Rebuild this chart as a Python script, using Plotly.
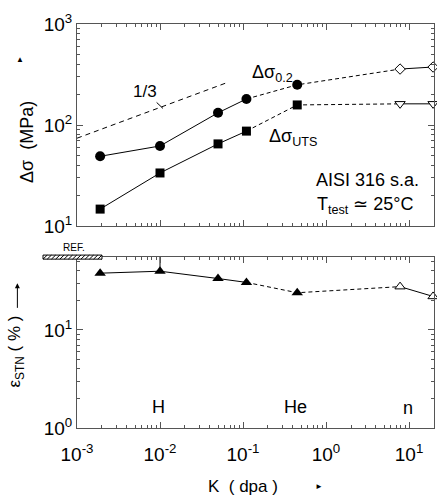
import plotly.graph_objects as go

# Irradiation dose (dpa) for the H, He and neutron irradiations
dose_dpa = [0.0019, 0.01, 0.05, 0.11, 0.45, 7.8, 19.5]
# Yield stress increase and UTS increase (MPa)
d_sigma_02 = [49, 62, 132, 181, 250, 358, 375]
d_sigma_uts = [14.7, 33.5, 65, 87, 158, 162, 162]
# Uniform elongation (%)
eps_stn = [38, 39.8, 33.5, 30.6, 24, 27.7, 22]
ref_elong = 56  # unirradiated reference elongation

# Slope 1/3 guide line
guide_dose = [0.001, 0.066]
guide_sigma = [74, 265]

FONT = "Liberation Sans, Arial, sans-serif"
INK = "black"
AX = "#555555"

fig = go.Figure()


def series(y, ya, filled_sym, open_sym, size, open_size):
    xa = "x2" if ya == "y2" else "x"
    # solid segment: H irradiations
    fig.add_trace(go.Scatter(x=dose_dpa[0:4], y=y[0:4], mode="lines", xaxis=xa, yaxis=ya,
                             line=dict(color=INK, width=1), showlegend=False, hoverinfo="skip"))
    # dashed bridge H -> He -> n
    fig.add_trace(go.Scatter(x=dose_dpa[3:6], y=y[3:6], mode="lines", xaxis=xa, yaxis=ya,
                             line=dict(color=INK, width=1, dash="4px,3px"), showlegend=False, hoverinfo="skip"))
    # solid segment: neutrons
    fig.add_trace(go.Scatter(x=dose_dpa[5:7], y=y[5:7], mode="lines", xaxis=xa, yaxis=ya,
                             line=dict(color=INK, width=1), showlegend=False, hoverinfo="skip"))
    fig.add_trace(go.Scatter(x=dose_dpa[0:5], y=y[0:5], mode="markers", xaxis=xa, yaxis=ya,
                             marker=dict(symbol=filled_sym, size=size, color=INK, line=dict(width=0)),
                             showlegend=False, cliponaxis=False))
    fig.add_trace(go.Scatter(x=dose_dpa[5:7], y=y[5:7], mode="markers", xaxis=xa, yaxis=ya,
                             marker=dict(symbol=open_sym, size=open_size, color="white",
                                         line=dict(color=INK, width=1)),
                             showlegend=False, cliponaxis=False))


series(d_sigma_02, "y2", "circle", "diamond", 10, 8)
series(d_sigma_uts, "y2", "square", "triangle-down", 9, 9)
series(eps_stn, "y", "triangle-up", "triangle-up", 10, 9)

# mark from the 10^-2 point up to the reference level
fig.add_trace(go.Scatter(x=[dose_dpa[1], dose_dpa[1]], y=[eps_stn[1], ref_elong], mode="lines",
                         line=dict(color=INK, width=1), showlegend=False, hoverinfo="skip"))

fig.add_trace(go.Scatter(x=guide_dose, y=guide_sigma, mode="lines", xaxis="x2", yaxis="y2",
                         line=dict(color=INK, width=1, dash="5px,4px"), showlegend=False, hoverinfo="skip"))

xtv = [1e-3, 1e-2, 1e-1, 1, 10]
xtt = ["10<sup>-3</sup>", "10<sup>-2</sup>", "10<sup>-1</sup>", "10<sup>0</sup>", "10<sup>1</sup>"]
minor_x = [m * 10.0 ** e for e in range(-3, 2) for m in range(2, 10)]

common_axis = dict(type="log", showgrid=False, zeroline=False, showline=True, linecolor=AX,
                   linewidth=1, mirror="allticks", ticks="inside", ticklen=6, tickcolor=AX,
                   tickfont=dict(family=FONT, size=19, color=INK))

fig.update_layout(
    width=437, height=502,
    margin=dict(l=77, r=3, t=24, b=74),
    paper_bgcolor="white", plot_bgcolor="white",
    font=dict(family=FONT, color=INK),
    xaxis=dict(common_axis, range=[-3, 1.301], anchor="y", tickmode="array", tickvals=xtv, ticktext=xtt,
               minor=dict(tickmode="array", tickvals=minor_x, ticks="inside", ticklen=3, tickcolor=AX),
               ticklabelstandoff=9),
    xaxis2=dict(common_axis, range=[-3, 1.301], anchor="y2", matches="x", showticklabels=False,
                tickmode="array", tickvals=xtv,
                minor=dict(tickmode="array", tickvals=minor_x, ticks="inside", ticklen=3, tickcolor=AX)),
    yaxis=dict(common_axis, domain=[0, 0.4233], range=[0, 1.745], anchor="x",
               tickmode="array", tickvals=[1, 10], ticktext=["10<sup>0</sup>", "10<sup>1</sup>"],
               minor=dict(tickmode="array", tickvals=[2, 3, 4, 5, 6, 7, 8, 9, 20, 30, 40, 50],
                          ticks="inside", ticklen=3, tickcolor=AX)),
    yaxis2=dict(common_axis, domain=[0.5, 1], range=[1, 3], anchor="x2",
                tickmode="array", tickvals=[10, 100, 1000],
                ticktext=["10<sup>1</sup>", "10<sup>2</sup>", "10<sup>3</sup>"],
                minor=dict(tickmode="array", tickvals=[20, 30, 40, 50, 60, 70, 80, 90,
                                                       200, 300, 400, 500, 600, 700, 800, 900],
                           ticks="inside", ticklen=3, tickcolor=AX)),
)

ann = []


def txt(text, x, y, size, xref="paper", yref="paper", xanchor="center", yanchor="middle", angle=0):
    ann.append(dict(text=text, x=x, y=y, xref=xref, yref=yref, xanchor=xanchor, yanchor=yanchor,
                    showarrow=False, textangle=angle, font=dict(family=FONT, size=size, color=INK)))


# curve labels (log coordinates on log axes)
txt("Δσ<sub>0.2</sub>", -0.916, 2.51, 18, "x2", "y2", xanchor="left")
txt("Δσ<sub>UTS</sub>", -0.711, 1.88, 18, "x2", "y2", xanchor="left")
txt("AISI 316 s.a.", 1.145, 1.458, 18, "x2", "y2", xanchor="right")
txt("T<sub>test</sub> ≃ 25°C", -0.133, 1.20, 18, "x2", "y2", xanchor="left")
ann.append(dict(text="1/3", x=-1.964, y=2.164, xref="x2", yref="y2", showarrow=True, arrowhead=0,
                arrowwidth=1, arrowcolor=INK, ax=-18, ay=-17, standoff=0,
                font=dict(family=FONT, size=17, color=INK)))

# irradiation type labels
txt("H", -2.024, 0.214, 18, "x", "y")
txt("He", -0.373, 0.214, 18, "x", "y")
txt("n", 0.99, 0.204, 18, "x", "y")

# axis titles
txt("Δσ  (MPa)", -0.140, 0.708, 18, angle=-90)
txt("▲", -0.160, 0.911, 8)
txt("ε<sub>STN</sub> ( % )", -0.170, 0.19, 17, angle=-90)
ann.append(dict(text="", x=-0.167, y=0.358, xref="paper", yref="paper", showarrow=True, arrowhead=2,
                arrowsize=1, arrowwidth=1, arrowcolor=INK, ax=0, ay=26, standoff=0))
txt("K  ( dpa )", 0.465, -0.146, 17)
txt("►", 0.679, -0.146, 8)

# reference elongation band
txt("REF.", -0.008, 0.448, 10)
fig.update_layout(annotations=ann)

shapes = []
rx0, rx1, ry0, ry1 = -0.0952, 0.070, 0.418, 0.428
shapes.append(dict(type="rect", xref="paper", yref="paper", x0=rx0, x1=rx1, y0=ry0, y1=ry1,
                   line=dict(color=INK, width=1), fillcolor="white"))
n_hatch = 14
step = (rx1 - rx0) / n_hatch
for i in range(n_hatch):
    xa = rx0 + i * step
    shapes.append(dict(type="line", xref="paper", yref="paper", x0=xa, x1=xa + step,
                       y0=ry0, y1=ry1, line=dict(color=INK, width=1)))
fig.update_layout(shapes=shapes)

fig.write_html("out.html")
